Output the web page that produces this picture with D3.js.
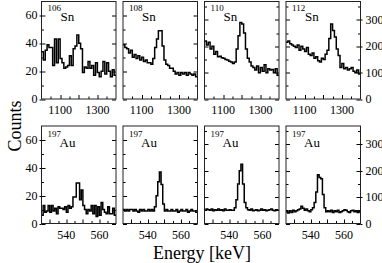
<!DOCTYPE html>
<html><head><meta charset="utf-8">
<script src="https://cdn.jsdelivr.net/npm/d3@7"></script>
<style>body{margin:0;background:#fff}svg{display:block}</style>
</head><body>
<svg id="c" width="382" height="263" font-family="'Liberation Serif', 'Times New Roman', Times, 'DejaVu Serif', serif"></svg>
<script>
// ---- data ----
const snStart = 1000, snBin = 10;
const auStart = 525, auBin = 1;
const sn106 = [34,28,35,39,37,37,24,43,26,43,29,26,22,23,24,31,24,36,38,46,40,36,19,23,22,27,22,24,17,26,19,16,20,27,18,26,20,16,21,17];
const sn108 = [39,37,36,33,35,30,32,29,31,28,30,27,28,26,26,25,29,37,43,49,49,38,28,25,24,22,22,20,18,19,17,19,18,19,17,19,18,17,18,16];
const sn110 = [220,205,215,190,200,170,180,160,162,157,155,150,148,143,140,135,140,190,240,290,285,250,190,155,140,125,120,110,125,100,120,105,130,100,115,110,112,100,115,90];
const sn112 = [215,220,210,205,200,195,205,185,200,190,180,195,170,165,175,155,160,145,140,155,150,170,185,230,285,260,235,190,165,120,135,115,120,110,115,120,105,100,110,95];
const au1 = [6,13,8,9,13,8,13,9,11,7,12,11,11,10,12,8,13,11,12,19,19,29,29,17,24,13,10,7,10,9,13,7,13,5,12,6,15,10,8,7,12,7,7,11,6];
const au2 = [10,9,10,9,10,10,9,10,9,8,10,9,10,9,9,10,9,10,9,12,20,30,37,28,14,9,10,9,9,10,9,9,10,8,9,10,9,9,10,8,9,10,9,9,8];
const au3 = [50,55,52,50,55,48,52,50,55,50,52,48,55,50,50,52,50,50,60,90,150,200,225,150,80,60,52,50,55,48,50,52,48,50,55,50,52,48,50,52,55,50,48,52,50];
const au4 = [45,40,48,42,50,45,48,52,55,65,58,50,55,48,45,52,60,80,120,185,175,170,110,60,45,48,45,50,42,48,45,50,42,45,48,52,50,45,42,48,50,45,48,42,45];
const leftTicks = [0,20,40,60];
const rightTicks = [0,100,200,300];
const snTickLabels = [1100,1300];
const auTickLabels = [540,560];
const panels = [
  {row:0,col:0,data:sn106,iso:"106",el:"Sn",scale:"L"},
  {row:0,col:1,data:sn108,iso:"108",el:"Sn",scale:"L"},
  {row:0,col:2,data:sn110,iso:"110",el:"Sn",scale:"R"},
  {row:0,col:3,data:sn112,iso:"112",el:"Sn",scale:"R"},
  {row:1,col:0,data:au1,iso:"197",el:"Au",scale:"L"},
  {row:1,col:1,data:au2,iso:"197",el:"Au",scale:"L"},
  {row:1,col:2,data:au3,iso:"197",el:"Au",scale:"R"},
  {row:1,col:3,data:au4,iso:"197",el:"Au",scale:"R"}
];
// ---- layout ----
const colX = [41.5,123,204.5,286], pw = 74.5;
const rowY = [1.5,126], ph = 97.5;
const svg = d3.select("#c");
const yL = d3.scaleLinear().domain([0,70]).range([ph,0]);
const yR = d3.scaleLinear().domain([0,370]).range([ph,0]);
const xSn = d3.scaleLinear().domain([1000,1400]).range([0,pw]);
const xAu = d3.scaleLinear().domain([525,570]).range([0,pw]);

panels.forEach((p,i)=>{
  const g = svg.append("g").attr("transform",`translate(${colX[p.col]},${rowY[p.row]})`);
  const x = p.row===0 ? xSn : xAu;
  const y = p.scale==="L" ? yL : yR;
  const start = p.row===0 ? snStart : auStart, bw = p.row===0 ? snBin : auBin;
  const pts = p.data.map((v,k)=>[start+k*bw,v]);
  pts.push([start+p.data.length*bw, p.data[p.data.length-1]]);
  const cid = "clip"+i;
  g.append("clipPath").attr("id",cid).append("rect").attr("width",pw).attr("height",ph);
  g.append("path").attr("clip-path",`url(#${cid})`)
    .attr("d", d3.line().x(d=>x(d[0])).y(d=>y(d[1])).curve(d3.curveStepAfter)(pts))
    .attr("fill","none").attr("stroke","#000").attr("stroke-width",1.5);
  const majors = p.scale==="L" ? leftTicks : rightTicks;
  const minorStep = p.scale==="L" ? 10 : 50;
  const maxV = p.scale==="L" ? 70 : 370;
  d3.range(0, maxV, minorStep).forEach(t=>{
    const isMaj = majors.includes(t);
    const len = isMaj ? 4 : 2.5;
    const yy = Math.round(y(t))+0.5;
    g.append("line").attr("x1",0).attr("x2",len).attr("y1",yy).attr("y2",yy).attr("stroke","#000").attr("stroke-width",1);
    g.append("line").attr("x1",pw).attr("x2",pw-len).attr("y1",yy).attr("y2",yy).attr("stroke","#000").attr("stroke-width",1);
  });
  const xt = p.row===0 ? d3.range(1050,1400,50) : d3.range(530,570,5);
  const xlab = p.row===0 ? snTickLabels : auTickLabels;
  xt.forEach(t=>{
    const isMaj = p.row===0 ? (t%100===0) : (t%10===0);
    const xx = Math.round(x(t))+0.5;
    g.append("line").attr("x1",xx).attr("x2",xx).attr("y1",ph).attr("y2",ph-(isMaj?4:2.5)).attr("stroke","#000").attr("stroke-width",1);
  });
  xlab.forEach(t=>{
    g.append("text").attr("x",x(t)).attr("y",ph+15).attr("text-anchor","middle").attr("font-size",12).text(t);
  });
  g.append("rect").attr("width",pw).attr("height",ph).attr("fill","none").attr("stroke","#222").attr("stroke-width",1);
  g.append("text").attr("x",6).attr("y",p.row===0?9:11).attr("font-size",9).text(p.iso);
  g.append("text").attr("x",p.row===0?19:18).attr("y",p.row===0?19:21).attr("font-size",13).text(p.el);
  if(p.col===0){
    leftTicks.forEach(t=>{
      g.append("text").attr("x",-4).attr("y",y(t)+4).attr("text-anchor","end").attr("font-size",12).text(t);
      g.append("line").attr("x1",0).attr("x2",-2).attr("y1",Math.round(y(t))+0.5).attr("y2",Math.round(y(t))+0.5).attr("stroke","#000");
    });
  }
  if(p.col===3){
    rightTicks.forEach(t=>{
      g.append("text").attr("x",pw+5).attr("y",y(t)+4).attr("text-anchor","start").attr("font-size",12).text(t);
      g.append("line").attr("x1",pw).attr("x2",pw+2).attr("y1",Math.round(y(t))+0.5).attr("y2",Math.round(y(t))+0.5).attr("stroke","#000");
    });
  }
});
svg.append("text").attr("transform","translate(21,126) rotate(-90)").attr("text-anchor","middle").attr("font-size",18).text("Counts");
svg.append("text").attr("x",202).attr("y",259).attr("text-anchor","middle").attr("font-size",18).text("Energy [keV]");
</script>
</body></html>
